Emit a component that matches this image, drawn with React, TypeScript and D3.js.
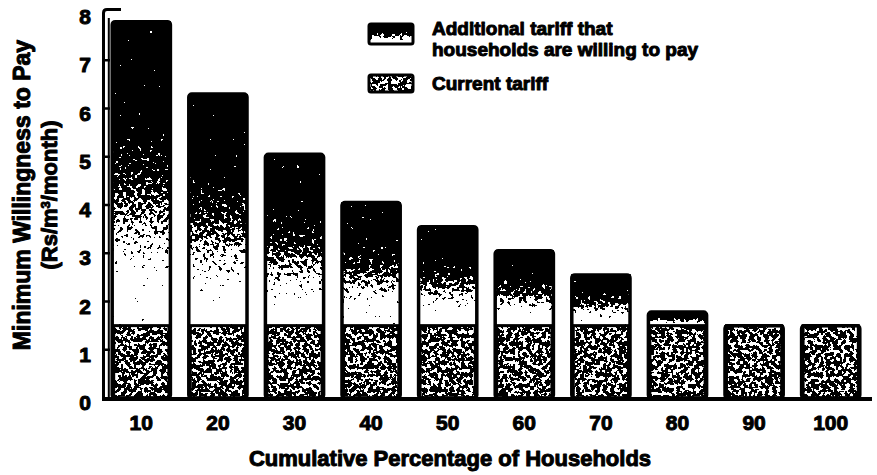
import React from "react";
import * as d3 from "d3";

const categories = ["10", "20", "30", "40", "50", "60", "70", "80", "90", "100"];
const currentTariff = [1.5, 1.5, 1.5, 1.5, 1.5, 1.5, 1.5, 1.5, 1.5, 1.5];
const additionalTariff = [6.3, 4.8, 3.55, 2.55, 2.05, 1.55, 1.05, 0.28, 0, 0];
const yTicks = [0, 1, 2, 3, 4, 5, 6, 7, 8];
const legendAdditional = ["Additional tariff that", "households are willing to pay"];
const legendCurrent = "Current tariff";
const xTitle = "Cumulative Percentage of Households";
const yTitle = "Minimum Willingness to Pay";

const W = 877;
const H = 475;
const FONT = "'Liberation Sans', Arial, Helvetica, sans-serif";

export default function App() {
  const x = d3
    .scaleBand<string>()
    .domain(categories)
    .range([103, 869])
    .paddingInner(0.24)
    .paddingOuter(0.12);
  const y = d3.scaleLinear().domain([0, 8]).range([398, 12]);
  const bw = x.bandwidth();

  const bars = categories.map((c, i) => {
    const cur = currentTariff[i];
    const add = additionalTariff[i];
    return { c, cur, add, total: cur + add, x0: x(c) as number };
  });

  const textStyle = {
    fontFamily: FONT,
    fontWeight: 700 as const,
    fill: "#000",
    stroke: "#000",
    strokeWidth: 1,
    strokeLinejoin: "round" as const,
  };

  return (
    <svg
      width={W}
      height={H}
      viewBox={`0 0 ${W} ${H}`}
      style={{ position: "absolute", left: 0, top: 0, background: "#fff" }}
    >
      <defs>
        <linearGradient id="addGrad" x1="0" y1="0" x2="0" y2="1">
          <stop offset="0" stopColor="#000" />
          <stop offset="0.3" stopColor="#000" />
          <stop offset="0.55" stopColor="#555" />
          <stop offset="0.72" stopColor="#b4b4b4" />
          <stop offset="0.86" stopColor="#fff" />
          <stop offset="1" stopColor="#fff" />
        </linearGradient>
        <filter
          id="stipple"
          x="0"
          y="0"
          width="1"
          height="1"
          colorInterpolationFilters="sRGB"
        >
          <feTurbulence type="fractalNoise" baseFrequency="0.26" numOctaves={2} seed={7} result="n" />
          <feColorMatrix
            in="n"
            type="matrix"
            values="1 0 0 0 0  1 0 0 0 0  1 0 0 0 0  0 0 0 0 1"
            result="g"
          />
          <feComposite
            in="SourceGraphic"
            in2="g"
            operator="arithmetic"
            k1={0}
            k2={1}
            k3={1.7}
            k4={-0.85}
            result="s"
          />
          <feComponentTransfer in="s">
            <feFuncR type="discrete" tableValues="0 1" />
            <feFuncG type="discrete" tableValues="0 1" />
            <feFuncB type="discrete" tableValues="0 1" />
          </feComponentTransfer>
        </filter>
      </defs>

      {/* bars */}
      {bars.map((b) => (
        <g key={b.c}>
          {b.add > 0 && (
            <rect
              x={b.x0}
              y={y(b.total)}
              width={bw}
              height={y(b.cur) - y(b.total)}
              fill="url(#addGrad)"
              filter="url(#stipple)"
            />
          )}
          <rect
            x={b.x0}
            y={y(b.cur)}
            width={bw}
            height={y(0) - y(b.cur)}
            fill="#707070"
            filter="url(#stipple)"
          />
          <rect
            x={b.x0 + 1.5}
            y={y(b.cur)}
            width={bw - 3}
            height={y(0) - y(b.cur)}
            fill="none"
            stroke="#000"
            strokeWidth={3}
          />
          <rect
            x={b.x0}
            y={y(b.total)}
            width={bw}
            height={y(0) - y(b.total)}
            fill="none"
            stroke="#000"
            strokeWidth={3.5}
            rx={3}
          />
        </g>
      ))}

      {/* baseline */}
      <line x1={102} x2={872} y1={y(0) + 1} y2={y(0) + 1} stroke="#000" strokeWidth={4} />

      {/* y axis (hollow ladder style) */}
      <path
        d={`M103.5,${y(0)} L103.5,${y(8) + 1} Q103.5,${y(8) - 2.5} 107,${y(8) - 2.5} L121,${y(8) - 2.5}`}
        fill="none"
        stroke="#000"
        strokeWidth={3}
      />
      <line x1={108.8} x2={108.8} y1={y(0)} y2={y(8) + 6} stroke="#000" strokeWidth={2} />
      {yTicks.slice(1, 8).map((t) => (
        <line key={t} x1={103} x2={110} y1={y(t)} y2={y(t)} stroke="#000" strokeWidth={2.5} />
      ))}

      {/* y tick labels */}
      {yTicks.map((t) => (
        <text key={t} x={91} y={y(t) + 12} textAnchor="end" fontSize={21} style={textStyle}>
          {t}
        </text>
      ))}

      {/* x tick labels */}
      {bars.map((b) => (
        <text
          key={b.c}
          x={b.x0 + bw / 2}
          y={430}
          textAnchor="middle"
          fontSize={21}
          style={textStyle}
        >
          {b.c}
        </text>
      ))}

      {/* x title */}
      <text x={450} y={466} textAnchor="middle" fontSize={22} style={textStyle}>
        {xTitle}
      </text>

      {/* y title */}
      <g transform="translate(30,195) rotate(-90)">
        <text x={0} y={0} textAnchor="middle" fontSize={23} style={textStyle}>
          {yTitle}
        </text>
        <text x={0} y={27} textAnchor="middle" fontSize={22} style={textStyle}>
          (Rs/m<tspan baselineShift="super" fontSize={13}>3</tspan>/month)
        </text>
      </g>

      {/* legend */}
      <rect x={369} y={24} width={44} height={20} fill="url(#addGrad)" filter="url(#stipple)" />
      <rect x={369} y={24} width={44} height={20} fill="none" stroke="#000" strokeWidth={3} rx={2} />
      <text x={432} y={35} fontSize={19} style={textStyle}>
        {legendAdditional[0]}
      </text>
      <text x={432} y={56} fontSize={19} style={textStyle}>
        {legendAdditional[1]}
      </text>
      <rect x={369} y={75} width={44} height={17} fill="#707070" filter="url(#stipple)" />
      <rect x={369} y={75} width={44} height={17} fill="none" stroke="#000" strokeWidth={3} rx={2} />
      <text x={432} y={90} fontSize={19} style={textStyle}>
        {legendCurrent}
      </text>
    </svg>
  );
}
